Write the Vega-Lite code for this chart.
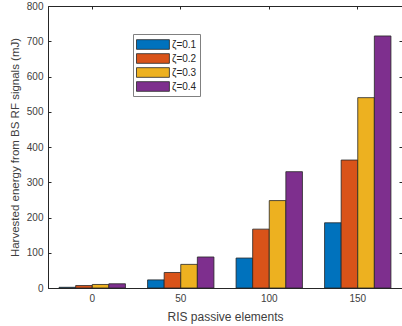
{
  "$schema": "https://vega.github.io/schema/vega-lite/v6.json",
  "autosize": "none",
  "width": 354,
  "height": 282,
  "padding": {"left": 48, "top": 6, "right": 0, "bottom": 38},
  "background": "white",
  "config": {
    "font": "Liberation Sans",
    "view": {"stroke": "#262626", "strokeWidth": 1},
    "axis": {"domainColor": "#262626", "tickColor": "#262626", "labelColor": "#404040", "titleColor": "#404040", "labelFontSize": 10, "titleFontSize": 11.5, "titleFontWeight": "normal", "grid": false, "tickSize": -3, "labelPadding": 8}
  },
  "data": {"values": [
    {"n": "0", "z": "ζ=0.1", "e": 2},
    {"n": "0", "z": "ζ=0.2", "e": 7},
    {"n": "0", "z": "ζ=0.3", "e": 10},
    {"n": "0", "z": "ζ=0.4", "e": 12},
    {"n": "50", "z": "ζ=0.1", "e": 23},
    {"n": "50", "z": "ζ=0.2", "e": 44},
    {"n": "50", "z": "ζ=0.3", "e": 67},
    {"n": "50", "z": "ζ=0.4", "e": 88},
    {"n": "100", "z": "ζ=0.1", "e": 85},
    {"n": "100", "z": "ζ=0.2", "e": 167},
    {"n": "100", "z": "ζ=0.3", "e": 248},
    {"n": "100", "z": "ζ=0.4", "e": 330},
    {"n": "150", "z": "ζ=0.1", "e": 185},
    {"n": "150", "z": "ζ=0.2", "e": 363},
    {"n": "150", "z": "ζ=0.3", "e": 540},
    {"n": "150", "z": "ζ=0.4", "e": 715}
  ]},
  "layer": [
    {
      "mark": {"type": "bar", "stroke": "#262626", "strokeWidth": 0.8},
      "encoding": {
        "x": {"field": "n", "type": "nominal", "sort": ["0", "50", "100", "150"],
              "scale": {"paddingInner": 0.25, "paddingOuter": 0.125},
              "axis": {"title": "RIS passive elements", "labelAngle": 0, "titlePadding": 8, "titleFontSize": 12}},
        "xOffset": {"field": "z", "type": "nominal", "scale": {"paddingInner": 0}},
        "y": {"field": "e", "type": "quantitative", "scale": {"domain": [0, 800]},
              "axis": {"title": "Harvested energy from BS RF signals (mJ)", "values": [0,100,200,300,400,500,600,700,800], "titlePadding": 6}},
        "color": {"field": "z", "type": "nominal",
                  "scale": {"range": ["#0072BD", "#D95319", "#EDB120", "#7E2F8E"]},
                  "legend": {"title": null, "orient": "none", "legendX": 85, "legendY": 28,
                             "symbolType": "M-1,-0.69H3.7V0.69H-1Z", "symbolSize": 196,
                             "symbolStrokeColor": "#262626", "symbolStrokeWidth": 0.8,
                             "labelFontSize": 10, "labelColor": "#262626", "labelOffset": 21,
                             "rowPadding": 0, "strokeColor": "#808080", "fillColor": "white", "padding": 3}}
      }
    },
    {
      "mark": {"type": "bar", "opacity": 0},
      "encoding": {
        "x": {"field": "n", "type": "nominal", "sort": ["0", "50", "100", "150"],
              "scale": {"paddingInner": 0.25, "paddingOuter": 0.125},
              "axis": {"orient": "top", "title": null, "labels": false, "domain": false}},
        "y": {"field": "e", "type": "quantitative", "scale": {"domain": [0, 800]},
              "axis": {"orient": "right", "title": null, "labels": false, "values": [0,100,200,300,400,500,600,700,800], "domain": false}}
      }
    }
  ],
  "resolve": {"scale": {"x": "independent", "y": "independent"}, "axis": {"x": "independent", "y": "independent"}}
}
